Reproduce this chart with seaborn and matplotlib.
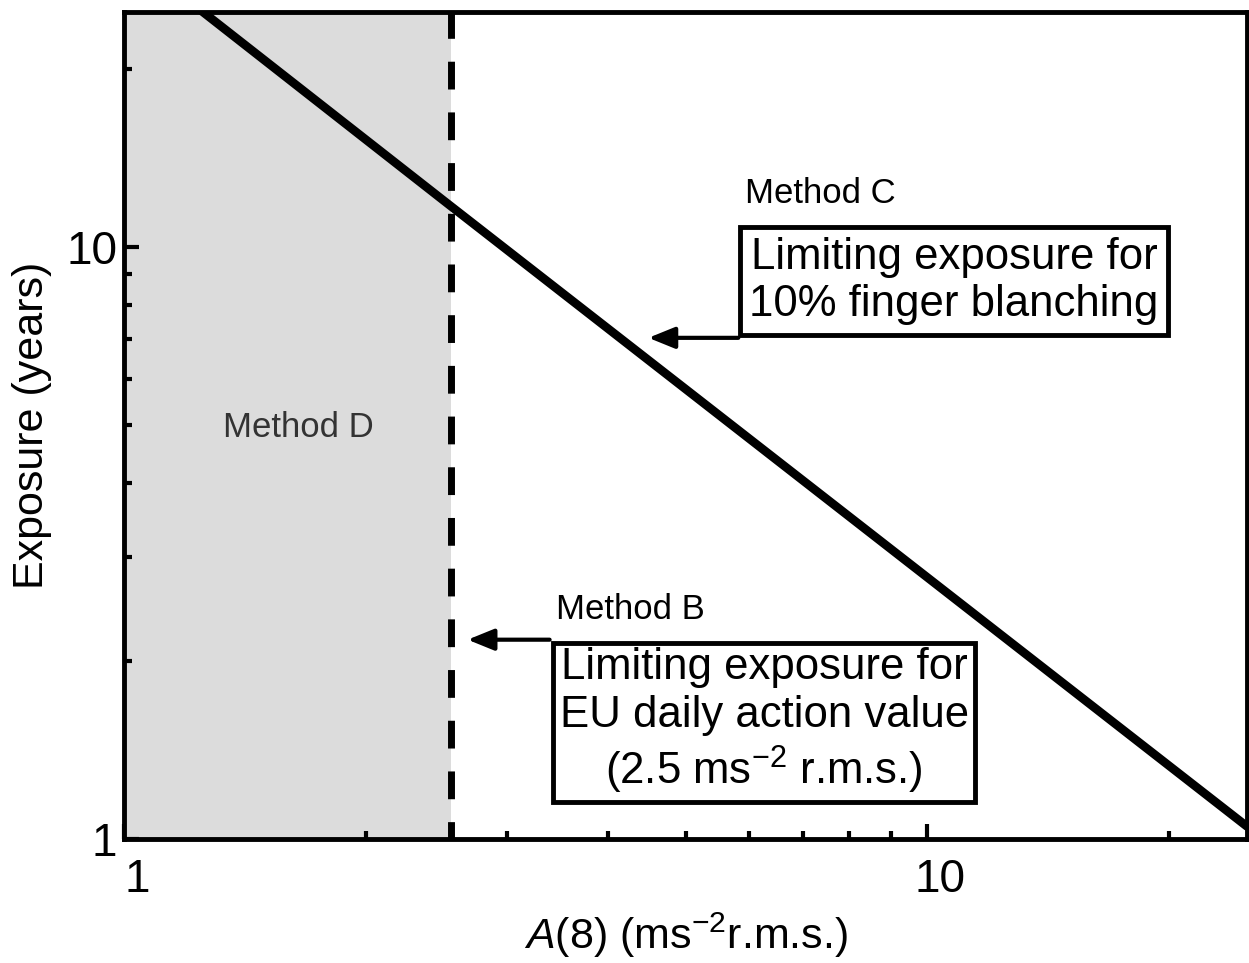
import numpy as np
import matplotlib
matplotlib.use('Agg')
import matplotlib.pyplot as plt
import matplotlib.transforms as mtransforms
import pandas as pd
import seaborn as sns

# Данные
accel = [1.0, 2.5, 25.0]          # A(8), ms^-2 r.m.s.
exposure = [31.8, 12.0, 1.05]     # годы до 10% побеления пальцев
action_value = 2.55               # положение пунктирной линии на рисунке
x_range = [1.0, 25.0]
y_range = [1.0, 25.0]

sns.set_style('ticks')
plt.rcParams['font.family'] = ['Liberation Sans', 'DejaVu Sans']
plt.rcParams['mathtext.fontset'] = 'custom'
plt.rcParams['mathtext.rm'] = 'Liberation Sans'
plt.rcParams['mathtext.it'] = 'Liberation Sans:italic'
plt.rcParams['text.color'] = 'black'
plt.rcParams['axes.labelcolor'] = 'black'
plt.rcParams['xtick.color'] = 'black'
plt.rcParams['ytick.color'] = 'black'
plt.rcParams['axes.edgecolor'] = 'black'

fig = plt.figure(figsize=(12.49, 9.63), dpi=100)
ax = fig.add_axes([124 / 1249, 1 - 839 / 963, 1123 / 1249, 827 / 963])

# Закрашенная область (Method D)
ax.axvspan(x_range[0], action_value, color='#dcdcdc', lw=0, zorder=0)

df = pd.DataFrame({'A8': accel, 'years': exposure})
sns.lineplot(data=df, x='A8', y='years', ax=ax, color='black', linewidth=6.2, zorder=3)
ax.axvline(action_value, color='black', linewidth=5, linestyle=(1.5, (4, 3.3)), zorder=2)

ax.set_xscale('log')
ax.set_yscale('log')
ax.set_xlim(x_range)
ax.set_ylim(y_range)
ax.set_xticks([1, 10])
ax.set_xticklabels(['1', '10'])
ax.set_yticks([1, 10])
ax.set_yticklabels(['1', '10'])

for s in ax.spines.values():
    s.set_linewidth(3.5)
ax.tick_params(which='major', direction='in', length=11, width=3, labelsize=33)
ax.tick_params(which='minor', direction='in', length=6, width=3)
ax.tick_params(axis='x', which='major', pad=14)
ax.tick_params(axis='y', which='major', pad=5)

# подписи на оси x сдвинуты немного вправо, как в оригинале
shift = mtransforms.ScaledTranslation(13 / 100, 0, fig.dpi_scale_trans)
for lbl in ax.get_xticklabels():
    lbl.set_transform(lbl.get_transform() + shift)

ax.set_xlabel(r'$\it{A}$(8) (ms$^{-2}$r.m.s.)', fontsize=31, labelpad=6)
ax.set_ylabel('Exposure (years)', fontsize=31, labelpad=10)

# Подписи методов
ax.text(0.620, 0.781, 'Method C', transform=ax.transAxes, fontsize=25,
        ha='center', va='center')
ax.text(0.451, 0.277, 'Method B', transform=ax.transAxes, fontsize=25,
        ha='center', va='center')
ax.text(0.155, 0.497, 'Method D', transform=ax.transAxes, fontsize=25,
        ha='center', va='center', color='#333333')

ax.text(0.739, 0.675, 'Limiting exposure for\n10% finger blanching',
        transform=ax.transAxes, fontsize=31.5, ha='center', va='center',
        multialignment='center', linespacing=1.2, zorder=5,
        bbox=dict(boxstyle='square,pad=0.22', fc='white', ec='black', lw=3.5))
ax.text(0.570, 0.142, 'Limiting exposure for\nEU daily action value\n(2.5 ms$^{-2}$ r.m.s.)',
        transform=ax.transAxes, fontsize=31.5, ha='center', va='center',
        multialignment='center', linespacing=1.2, zorder=5,
        bbox=dict(boxstyle='square,pad=0.15', fc='white', ec='black', lw=3.5))

arrow = dict(arrowstyle='-|>,head_length=1.6,head_width=0.65', color='black',
             lw=3, shrinkA=0, shrinkB=0)
ax.annotate('', xy=(0.467, 0.606), xytext=(0.547, 0.606),
            xycoords='axes fraction', arrowprops=arrow, zorder=4)
ax.annotate('', xy=(0.306, 0.241), xytext=(0.379, 0.241),
            xycoords='axes fraction', arrowprops=arrow, zorder=4)

fig.savefig('out.png', dpi=100)
plt.close(fig)
